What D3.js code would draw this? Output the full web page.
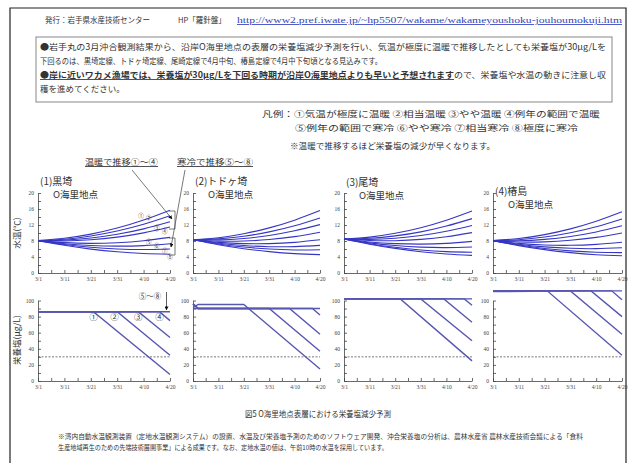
<!DOCTYPE html>
<html>
<head>
<meta charset="utf-8">
<script src="https://cdn.jsdelivr.net/npm/d3@7"></script>
<style>
body { margin: 0; background: #fff; }
text { font-family: "Noto Sans CJK JP", sans-serif; fill: #333; }
.tick text { font-family: "Liberation Serif", serif; font-size: 5.5px; fill: #444; }
.tick line, .domain { stroke: #444; stroke-width: 0.8; }
</style>
</head>
<body>
<svg id="chart" width="632" height="463"></svg>
<script>
// ---- data ----
const stations = ['(1)黒埼', '(2)トドヶ埼', '(3)尾埼', '(4)椿島'];
const dateTicks = ['3/1', '3/11', '3/21', '3/31', '4/10', '4/20'];
const scenarios = ['①', '②', '③', '④', '⑤', '⑥', '⑦', '⑧'];

// water temperature (°C) at dateTicks, scenarios ①..⑧
const tempKurosaki = [
	[8.1, 8.68, 9.72, 11.24, 13.24, 15.7],
	[8.1, 8.45, 9.25, 10.49, 12.17, 14.3],
	[8.1, 8.21, 8.74, 9.68, 11.03, 12.8],
	[8.1, 8.0, 8.3, 8.98, 10.04, 11.5],
	[8.1, 7.59, 7.41, 7.57, 8.07, 8.9],
	[8.1, 7.33, 6.87, 6.71, 6.85, 7.3],
	[8.1, 7.12, 6.43, 6.01, 5.86, 6.0],
	[8.1, 6.92, 5.98, 5.30, 4.88, 4.7],
];
const tempTodogasaki = [
	[8.3, 8.83, 9.82, 11.28, 13.21, 15.6],
	[8.3, 8.53, 9.19, 10.28, 11.8, 13.75],
	[8.3, 8.27, 8.63, 9.39, 10.55, 12.1],
	[8.3, 7.96, 7.99, 8.37, 9.1, 10.2],
	[8.3, 7.66, 7.34, 7.34, 7.66, 8.3],
	[8.3, 7.44, 6.86, 6.58, 6.6, 6.9],
	[8.3, 7.26, 6.49, 5.99, 5.76, 5.8],
	[8.3, 7.07, 6.08, 5.34, 4.85, 4.6],
];
const tempOsaki = [
	[8.5, 8.98, 9.92, 11.32, 13.18, 15.5],
	[8.5, 8.68, 9.27, 10.29, 11.74, 13.6],
	[8.5, 8.4, 8.7, 9.38, 10.44, 11.9],
	[8.5, 8.12, 8.08, 8.4, 9.08, 10.1],
	[8.5, 7.76, 7.34, 7.22, 7.4, 7.9],
	[8.5, 7.54, 6.86, 6.46, 6.34, 6.5],
	[8.5, 7.33, 6.42, 5.76, 5.35, 5.2],
	[8.5, 7.2, 6.15, 5.33, 4.74, 4.4],
];
const tempTsubaki = [
	[8.1, 8.61, 9.59, 11.03, 12.93, 15.3],
	[8.1, 8.32, 8.98, 10.06, 11.56, 13.5],
	[8.1, 8.05, 8.4, 9.14, 10.27, 11.8],
	[8.1, 7.76, 7.79, 8.17, 8.9, 10.0],
	[8.1, 7.4, 7.0, 6.92, 7.16, 7.7],
	[8.1, 7.17, 6.53, 6.17, 6.09, 6.3],
	[8.1, 6.98, 6.12, 5.52, 5.18, 5.1],
	[8.1, 6.85, 5.85, 5.09, 4.57, 4.3],
];

// nutrients (µg/L): [date, value] break points per scenario line
const nutKurosaki = [
	[['3/1', 86], ['3/22', 86], ['4/20', 8]],
	[['3/1', 86], ['3/31', 86], ['4/20', 32]],
	[['3/1', 86], ['4/8', 86], ['4/20', 54]],
	[['3/1', 86], ['4/16', 86], ['4/20', 75]],
	[['3/1', 86], ['4/20', 86]],
];
const nutTodogasaki = [
	[['3/1', 91], ['3/3', 95], ['3/21', 95], ['4/20', 15]],
	[['3/1', 96], ['3/3', 90], ['3/31', 90], ['4/20', 37]],
	[['3/1', 96], ['3/3', 90], ['4/8', 90], ['4/20', 58]],
	[['3/1', 96], ['3/3', 90], ['4/17', 90], ['4/20', 82]],
	[['3/1', 90], ['4/20', 90]],
];
const nutOsaki = [
	[['3/1', 102], ['3/23', 102], ['4/20', 25]],
	[['3/1', 102], ['3/31', 102], ['4/20', 50]],
	[['3/1', 102], ['4/9', 102], ['4/20', 73]],
	[['3/1', 102], ['4/17', 102], ['4/20', 94]],
	[['3/1', 102], ['4/20', 102]],
];
const nutTsubaki = [
	[['3/1', 112], ['3/22', 112], ['4/20', 32]],
	[['3/1', 112], ['3/31', 112], ['4/20', 58]],
	[['3/1', 112], ['4/8', 112], ['4/20', 80]],
	[['3/1', 112], ['4/16', 112], ['4/20', 101]],
	[['3/1', 112], ['4/20', 112]],
	[['3/1', 111], ['3/16', 111.5]],
];
const nutThreshold = 30;

// where the scenario numbers sit in panel (1)
const tempMarks = [['4/9', 14.3], ['4/12', 13.7], ['4/15', 11.3], ['4/18', 10.6], ['4/12', 7.7], ['4/15', 6.75], ['4/18', 5.5], ['4/20', 3.9]];
const nutMarks = [['3/22', 80], ['3/30', 80], ['4/8', 80], ['4/16', 80]];

const tempSets = [tempKurosaki, tempTodogasaki, tempOsaki, tempTsubaki];
const nutSets = [nutKurosaki, nutTodogasaki, nutOsaki, nutTsubaki];

// ---- layout ----
const panelX = [[38, 170], [193, 320], [344, 472], [493, 622]];
const titleY = [185, 185, 186, 195];
const topY = [273, 193];
const botY = [381, 300.5];

const parse = d3.timeParse('%m/%d');
const fmt = d3.timeFormat('%-m/%-d');
const svg = d3.select('#chart');

// frame
svg.append('path').attr('d', 'M10,463V8H626V463').attr('fill', 'none').attr('stroke', '#222').attr('stroke-width', 1.2);

// header
svg.append('text').attr('x', 45).attr('y', 23).attr('font-size', 7.5).text('発行：岩手県水産技術センター');
svg.append('text').attr('x', 178).attr('y', 23).attr('font-size', 7.5).text('HP「羅針盤」');
svg.append('text').attr('x', 237).attr('y', 23).attr('font-size', 8.5)
	.attr('textLength', 385).attr('lengthAdjust', 'spacingAndGlyphs')
	.style('font-family', '"Liberation Serif", serif').style('fill', '#3344bb')
	.attr('text-decoration', 'underline')
	.text('http://www2.pref.iwate.jp/~hp5507/wakame/wakameyoushoku-jouhoumokuji.htm');

// notice box
svg.append('rect').attr('x', 36).attr('y', 37).attr('width', 576).attr('height', 65)
	.attr('fill', 'none').attr('stroke', '#888').attr('stroke-width', 1);
const box = svg.append('g').attr('font-size', 8.5);
box.append('text').attr('x', 40).attr('y', 50).attr('textLength', 566).attr('lengthAdjust', 'spacingAndGlyphs')
	.text('●岩手丸の3月沖合観測結果から、沿岸O海里地点の表層の栄養塩減少予測を行い、気温が極度に温暖で推移したとしても栄養塩が30μg/Lを');
box.append('text').attr('x', 40).attr('y', 64).attr('textLength', 342).attr('lengthAdjust', 'spacingAndGlyphs')
	.text('下回るのは、黒埼定線、トドヶ埼定線、尾崎定線で4月中旬、椿島定線で4月中下旬頃となる見込みです。');
const l3 = box.append('text').attr('x', 40).attr('y', 78).attr('textLength', 566).attr('lengthAdjust', 'spacingAndGlyphs');
l3.append('tspan').attr('font-weight', 'bold').attr('text-decoration', 'underline')
	.text('●岸に近いワカメ漁場では、栄養塩が30μg/Lを下回る時期が沿岸O海里地点よりも早いと予想されます');
l3.append('tspan').text('ので、栄養塩や水温の動きに注意し収');
box.append('text').attr('x', 40).attr('y', 92).text('穫を進めてください。');

// legend
const leg = svg.append('g').attr('font-size', 8.5);
leg.append('text').attr('x', 262).attr('y', 117).attr('textLength', 338).attr('lengthAdjust', 'spacingAndGlyphs')
	.text('凡例：①気温が極度に温暖 ②相当温暖 ③やや温暖 ④例年の範囲で温暖');
leg.append('text').attr('x', 295).attr('y', 131).attr('textLength', 283).attr('lengthAdjust', 'spacingAndGlyphs')
	.text('⑤例年の範囲で寒冷 ⑥やや寒冷 ⑦相当寒冷 ⑧極度に寒冷');
leg.append('text').attr('x', 290).attr('y', 149).attr('textLength', 205).attr('lengthAdjust', 'spacingAndGlyphs')
	.text('※温暖で推移するほど栄養塩の減少が早くなります。');

// arrow marker
svg.append('defs').append('marker').attr('id', 'arr')
	.attr('viewBox', '0 0 10 10').attr('refX', 9).attr('refY', 5)
	.attr('markerWidth', 5).attr('markerHeight', 5).attr('orient', 'auto')
	.append('path').attr('d', 'M0,0L10,5L0,10Z').attr('fill', '#111');

const tempLine = d3.line().curve(d3.curveNatural);
const nutLine = d3.line();
const scales = [];

stations.forEach((name, i) => {
	const [xa, xb] = panelX[i];
	const x = d3.scaleTime().domain([parse('3/1'), parse('4/20')]).range([xa, xb]);
	const yT = d3.scaleLinear().domain([0, 20]).range(topY);
	const yN = d3.scaleLinear().domain([0, 100]).range(botY);
	scales.push({x, yT, yN});
	const dayTicks = d3.timeDay.range(parse('3/1'), parse('4/21'), 5);
	const xAxis = d3.axisBottom(x).tickValues(dayTicks).tickSize(-3).tickSizeOuter(0).tickPadding(4)
		.tickFormat(d => dateTicks.includes(fmt(d)) ? fmt(d) : '');

	const g = svg.append('g');

	// titles
	g.append('text').attr('x', xa + 2).attr('y', titleY[i]).attr('font-size', 10).text(name);
	g.append('text').attr('x', xa + 15).attr('y', titleY[i] + 13).attr('font-size', 9.5).text('O海里地点');

	// top: water temperature
	g.append('g').attr('transform', `translate(0,${topY[0]})`).call(xAxis);
	g.append('g').attr('transform', `translate(${xa},0)`)
		.call(d3.axisLeft(yT).tickValues(d3.range(0, 21, 2)).tickSize(-3).tickSizeOuter(0).tickPadding(4)
			.tickFormat(v => v % 4 === 0 ? v : ''));
	g.append('g').selectAll('path').data(tempSets[i]).join('path')
		.attr('d', vals => tempLine(vals.map((v, k) => [x(parse(dateTicks[k])), yT(v)])))
		.attr('fill', 'none').attr('stroke', '#3636c4').attr('stroke-width', 1.1);

	// bottom: nutrients
	g.append('g').attr('transform', `translate(0,${botY[0]})`).call(xAxis);
	g.append('g').attr('transform', `translate(${xa},0)`)
		.call(d3.axisLeft(yN).tickValues(d3.range(0, 101, 10)).tickSize(-3).tickSizeOuter(0).tickPadding(4)
			.tickFormat(v => v % 20 === 0 ? v : ''));
	g.append('line').attr('x1', xa).attr('x2', xb).attr('y1', yN(nutThreshold)).attr('y2', yN(nutThreshold))
		.attr('stroke', '#555').attr('stroke-width', 0.8).attr('stroke-dasharray', '2,1.5');
	g.append('g').selectAll('path').data(nutSets[i]).join('path')
		.attr('d', pts => nutLine(pts.map(p => [x(parse(p[0])), yN(p[1])])))
		.attr('fill', 'none').attr('stroke', '#5757b0').attr('stroke-width', 1.4);
});

// axis titles
svg.append('text').attr('transform', 'translate(20,233) rotate(-90)').attr('text-anchor', 'middle')
	.attr('font-size', 8.5).text('水温(℃)');
svg.append('text').attr('transform', 'translate(20,340) rotate(-90)').attr('text-anchor', 'middle')
	.attr('font-size', 8.5).text('栄養塩(μg/L)');

// annotations, panel 1
const {x: x1, yT: yT1, yN: yN1} = scales[0];
const ann = svg.append('g').attr('font-size', 8.5);
ann.append('text').attr('x', 85).attr('y', 165).attr('textLength', 73).attr('lengthAdjust', 'spacingAndGlyphs')
	.attr('text-decoration', 'underline').text('温暖で推移①～④');
ann.append('text').attr('x', 177).attr('y', 165).attr('textLength', 76).attr('lengthAdjust', 'spacingAndGlyphs')
	.attr('text-decoration', 'underline').text('寒冷で推移⑤～⑧');
ann.append('line').attr('x1', 132).attr('y1', 170).attr('x2', 172).attr('y2', 219)
	.attr('stroke', '#555').attr('stroke-width', 0.8).attr('marker-end', 'url(#arr)');
ann.append('line').attr('x1', 185).attr('y1', 170).attr('x2', 171).attr('y2', 247)
	.attr('stroke', '#555').attr('stroke-width', 0.8).attr('marker-end', 'url(#arr)');
ann.append('path').attr('d', 'M169,211H175V229H169M169,238H175V255H169')
	.attr('fill', 'none').attr('stroke', '#555').attr('stroke-width', 0.8);

ann.selectAll('text.tm').data(tempMarks).join('text').attr('class', 'tm')
	.attr('x', d => x1(parse(d[0]))).attr('y', d => yT1(d[1]) + 2)
	.attr('text-anchor', 'middle').attr('font-size', 5.5).text((d, k) => scenarios[k]);
ann.selectAll('text.nm').data(nutMarks).join('text').attr('class', 'nm')
	.attr('x', d => x1(parse(d[0]))).attr('y', d => yN1(d[1]) + 3)
	.attr('text-anchor', 'middle').attr('font-size', 8.5).text((d, k) => scenarios[k]);
ann.append('text').attr('x', 150).attr('y', 299).attr('text-anchor', 'middle').attr('font-size', 7.5).text('⑤～⑧');
ann.append('line').attr('x1', 166.5).attr('y1', 292).attr('x2', 166.5).attr('y2', 310)
	.attr('stroke', '#333').attr('stroke-width', 0.8).attr('marker-end', 'url(#arr)');

// caption and footnote
svg.append('text').attr('x', 245).attr('y', 417).attr('font-size', 8.5).attr('textLength', 146)
	.attr('lengthAdjust', 'spacingAndGlyphs').text('図5 O海里地点表層における栄養塩減少予測');
svg.append('text').attr('x', 58).attr('y', 439).attr('font-size', 6.3).attr('textLength', 525)
	.attr('lengthAdjust', 'spacingAndGlyphs')
	.text('※湾内自動水温観測装置（定地水温観測システム）の設置、水温及び栄養塩予測のためのソフトウェア開発、沖合栄養塩の分析は、農林水産省 農林水産技術会議による「食料');
svg.append('text').attr('x', 58).attr('y', 450).attr('font-size', 6.3).attr('textLength', 330)
	.attr('lengthAdjust', 'spacingAndGlyphs')
	.text('生産地域再生のための先端技術展開事業」による成果です。なお、定地水温の値は、午前10時の水温を採用しています。');
</script>
</body>
</html>
